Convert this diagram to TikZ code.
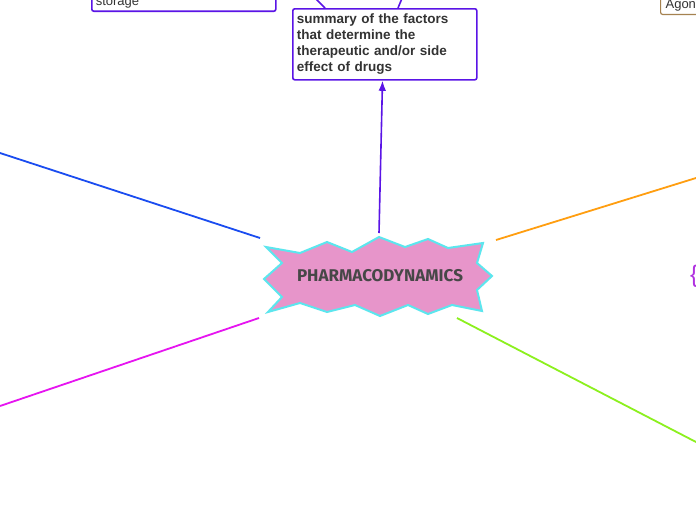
\documentclass[tikz,border=0pt]{standalone}
\usepackage{fontspec}
\setmainfont{Liberation Sans}
\newfontfamily\hubfont{Fira Sans}
\usetikzlibrary{positioning, arrows.meta, calc}

\definecolor{boxline}{HTML}{5A14E6}
\definecolor{brownline}{HTML}{A58250}
\definecolor{starfill}{HTML}{E795CA}
\definecolor{starline}{HTML}{5CE6EE}
\definecolor{txt}{HTML}{333333}
\definecolor{hubtxt}{HTML}{474747}
\definecolor{bluebranch}{HTML}{1A4CF0}
\definecolor{orangebranch}{HTML}{FF9E10}
\definecolor{magbranch}{HTML}{E614F0}
\definecolor{greenbranch}{HTML}{8CF01E}
\definecolor{bracecol}{HTML}{B030E0}

\begin{document}
\begin{tikzpicture}[
  x=1pt, y=-1pt,
  >=Latex,
  topic/.style={draw=boxline, line width=1.6pt, rounded corners=2pt, fill=white,
    text=txt, align=left, inner sep=4pt, font=\fontsize{13.5}{16}\selectfont\bfseries},
  agon/.style={draw=brownline, line width=1.2pt, rounded corners=2pt, fill=white,
    text=txt, inner sep=3pt, font=\fontsize{13}{15}\selectfont},
  branch/.style={line width=1.8pt},
  arr/.style={->, line width=1.6pt, draw=boxline}
]
\useasboundingbox (0,0) rectangle (696,520);
\fill[white] (0,0) rectangle (696,520);

% central burst
\filldraw[fill=starfill, draw=starline, line width=2pt]
  (266,247) -- (300,253) -- (327,242) -- (352,252) -- (379,237) -- (405,247)
  -- (428,239) -- (448,248) -- (483,243) -- (477,263) -- (492,276) -- (477,290)
  -- (482,311) -- (452,305) -- (428,314) -- (408,305) -- (380,316) -- (355,305)
  -- (327,312) -- (300,303) -- (268,312) -- (282,297) -- (264,279) -- (282,263)
  -- cycle;
\node[font=\hubfont\fontsize{17}{17}\selectfont\bfseries, text=hubtxt] (hub) at (380,276)
  {PHARMACODYNAMICS};

\coordinate (hubN) at (379,233);
\coordinate (hubNW) at (260,238);
\coordinate (hubNE) at (496,240);
\coordinate (hubSW) at (259,318);
\coordinate (hubSE) at (457,318);

\node[topic, anchor=north west, minimum width=184pt, minimum height=71pt, text width=176pt]
  (summary) at (292,8) {summary of the factors\\that determine the\\therapeutic and/or side\\effect of drugs};
\node[topic, anchor=south west, minimum width=184pt, text width=176pt,
  font=\fontsize{13}{15}\selectfont, inner ysep=3pt]
  (storage) at (91,12) {storage};
\node[agon, anchor=south west, minimum width=60pt, text width=50pt, align=left]
  (agonist) at (660,15) {Agon};
\node[text=bracecol, font=\fontsize{24}{24}\selectfont, inner sep=0pt] (brace) at (694,276) {\{};

% off-canvas ends
\coordinate (upL) at (313,-4);
\coordinate (upR) at (403,-4);
\coordinate (farW) at (0,153);
\coordinate (farE) at (696,178);
\coordinate (farSW) at (0,406);
\coordinate (farSE) at (696,442);

\draw[arr] (hubN) -- (summary.south -| 382.5,0);
\draw[boxline, line width=1.6pt] (upL) -- (325,8);
\draw[boxline, line width=1.6pt] (upR) -- (398,8);

\draw[branch, bluebranch] (farW) -- (hubNW);
\draw[branch, orangebranch] (hubNE) -- (farE);
\draw[branch, magbranch] (hubSW) -- (farSW);
\draw[branch, greenbranch] (hubSE) -- (farSE);
\end{tikzpicture}
\end{document}
